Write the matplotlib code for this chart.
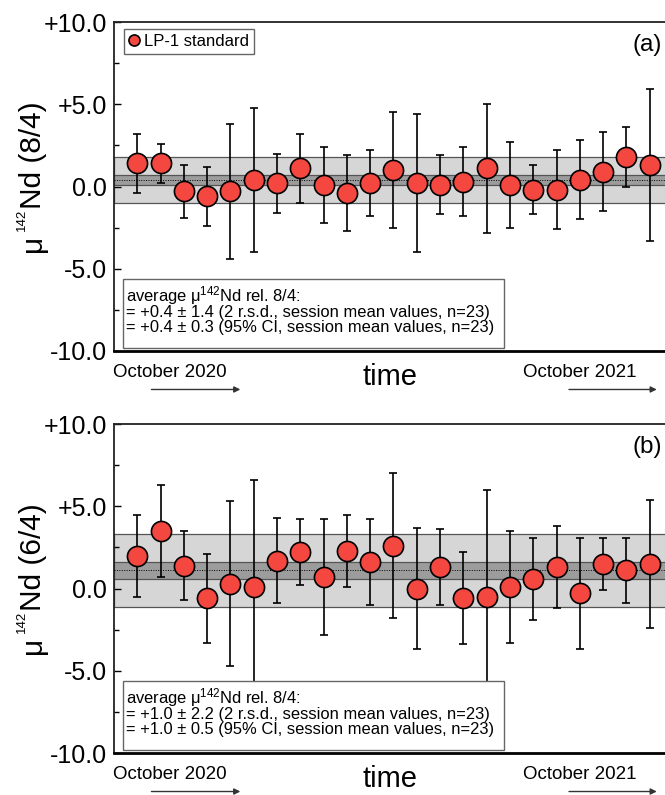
import numpy as np
import matplotlib
matplotlib.use("Agg")
import matplotlib.pyplot as plt
from matplotlib.patches import Rectangle
from matplotlib.ticker import FixedLocator

plt.rcParams["font.family"] = ["Liberation Sans", "DejaVu Sans"]
plt.rcParams["mathtext.fontset"] = "custom"
plt.rcParams["mathtext.rm"] = "Liberation Sans"
plt.rcParams["mathtext.default"] = "regular"

# session index (23 sessions, Oct 2020 - Oct 2021)
session = np.arange(1, 24)

# panel (a): mu142Nd rel. 8/4
mu_84 = [1.4, 1.4, -0.3, -0.6, -0.3, 0.4, 0.2, 1.1, 0.1, -0.4, 0.2, 1.0,
         0.2, 0.1, 0.3, 1.1, 0.1, -0.2, -0.2, 0.4, 0.9, 1.8, 1.3]
err_84 = [1.8, 1.2, 1.6, 1.8, 4.1, 4.4, 1.8, 2.1, 2.3, 2.3, 2.0, 3.5,
          4.2, 1.8, 2.1, 3.9, 2.6, 1.5, 2.4, 2.4, 2.4, 1.8, 4.6]
mean_84, rsd_84, ci_84 = 0.4, 1.4, 0.3

# panel (b): mu142Nd rel. 6/4
mu_64 = [2.0, 3.5, 1.4, -0.6, 0.3, 0.1, 1.7, 2.2, 0.7, 2.3, 1.6, 2.6,
         0.0, 1.3, -0.6, -0.5, 0.1, 0.6, 1.3, -0.3, 1.5, 1.1, 1.5]
err_64 = [2.5, 2.8, 2.1, 2.7, 5.0, 6.5, 2.6, 2.0, 3.5, 2.2, 2.6, 4.4,
          3.7, 2.3, 2.8, 6.5, 3.4, 2.5, 2.5, 3.4, 1.6, 2.0, 3.9]
mean_64, rsd_64, ci_64 = 1.1, 2.2, 0.5
# value quoted in the text box of (b)
quoted_64 = 1.0

yticks = [10, 5, 0, -5, -10]
ytick_labels = ["+10.0", "+5.0", "0.0", "-5.0", "-10.0"]
minor_ticks = [7.5, 2.5, -2.5, -7.5]

point_color = "#f3473f"

W, H = 665, 795
fig = plt.figure(figsize=(6.65, 7.95), dpi=100)
ax_a = fig.add_axes([0.1714, 0.5585, 0.8406, 0.4138])
ax_b = fig.add_axes([0.1714, 0.0528, 0.8406, 0.4138])


def ylabel_parts(y_start, ratio):
    """Rotated y label built from pieces so the superscript stays small.
    y_start is the pixel row (from top) where the label begins."""
    kw = dict(rotation=90, rotation_mode="anchor", ha="left", va="baseline")
    fig.text(41 / W, 1 - y_start / H, "μ", fontsize=21.5, **kw)
    fig.text(25 / W, 1 - (y_start - 21) / H, "142", fontsize=9.5, **kw)
    fig.text(41 / W, 1 - (y_start - 43) / H, "Nd (" + ratio + ")",
             fontsize=21.5, **kw)


def draw_panel(ax, vals, errs, mean, rsd, ci, quoted, tag, legend=False):
    ax.axhspan(mean - rsd, mean + rsd, facecolor="#d6d6d6", edgecolor="#555555",
               lw=0.9, zorder=1)
    ax.axhspan(mean - ci, mean + ci, facecolor="#9c9c9c", edgecolor="#555555",
               lw=0.9, zorder=2)
    ax.axhline(mean, color="black", lw=0.7, ls=(0, (1, 1.5)), zorder=3)

    ax.errorbar(session, vals, yerr=errs, fmt="none", ecolor="black",
                elinewidth=1.2, capsize=3, capthick=1.2, zorder=4)
    ax.plot(session, vals, "o", ms=14.5, mfc=point_color, mec="black",
            mew=1.2, zorder=5, label="LP-1 standard", ls="none")

    ax.set_xlim(0, 24)
    ax.set_ylim(-10, 10)
    ax.set_xticks([])
    ax.set_yticks(yticks)
    ax.set_yticklabels(ytick_labels)
    ax.yaxis.set_minor_locator(FixedLocator(minor_ticks))
    ax.tick_params(axis="y", which="major", direction="in", length=5, width=1,
                   labelsize=18, pad=5)
    ax.tick_params(axis="y", which="minor", direction="in", length=3.5, width=1)
    ax.spines["right"].set_visible(False)
    ax.spines["left"].set_linewidth(1.3)
    ax.spines["top"].set_linewidth(1.3)
    ax.spines["bottom"].set_linewidth(2.0)
    ax.spines["left"].set_color("#222222")
    ax.spines["top"].set_color("#222222")

    ax.text(0.981, 0.929, tag, transform=ax.transAxes, ha="right", va="center",
            fontsize=17.5)

    # statistics box
    box = Rectangle((0.0156, 0.009), 0.682, 0.209, transform=ax.transAxes,
                    facecolor="white", edgecolor="#666666", lw=1.0, zorder=6)
    ax.add_patch(box)
    ax.text(0.022, 0.170, "average μ$^{142}$Nd rel. 8/4:", transform=ax.transAxes,
            ha="left", va="center", fontsize=11.9, zorder=7)
    ax.text(0.022, 0.116,
            "= %+.1f ± %.1f (2 r.s.d., session mean values, n=23)" % (quoted, rsd),
            transform=ax.transAxes, ha="left", va="center", fontsize=11.9, zorder=7)
    ax.text(0.022, 0.070,
            "= %+.1f ± %.1f (95%% CI, session mean values, n=23)" % (quoted, ci),
            transform=ax.transAxes, ha="left", va="center", fontsize=11.9, zorder=7)

    # time axis annotation
    ax.text(-0.002, -0.064, "October 2020", transform=ax.transAxes, ha="left",
            va="center", fontsize=13.5)
    ax.text(0.731, -0.064, "October 2021", transform=ax.transAxes, ha="left",
            va="center", fontsize=13.5)
    ax.text(0.494, -0.079, "time", transform=ax.transAxes, ha="center",
            va="center", fontsize=21)
    for x0, x1 in [(0.067, 0.226), (0.814, 0.971)]:
        ax.annotate("", xy=(x1, -0.117), xytext=(x0, -0.117),
                    xycoords="axes fraction", textcoords="axes fraction",
                    arrowprops=dict(arrowstyle="-|>", color="#333333", lw=1.0,
                                    mutation_scale=9, shrinkA=0, shrinkB=0),
                    annotation_clip=False)

    if legend:
        leg = ax.legend(loc="upper left", bbox_to_anchor=(0.018, 0.979),
                        borderaxespad=0, fontsize=12, markerscale=0.55,
                        handlelength=0.6, handletextpad=0.3, borderpad=0.3,
                        fancybox=False, framealpha=1, edgecolor="#666666")
        leg.get_frame().set_linewidth(1.0)
        leg.set_zorder(8)


draw_panel(ax_a, mu_84, err_84, mean_84, rsd_84, ci_84, mean_84, "(a)",
           legend=True)
draw_panel(ax_b, mu_64, err_64, mean_64, rsd_64, ci_64, quoted_64, "(b)")

ylabel_parts(252, "8/4")
ylabel_parts(654, "6/4")

fig.savefig("out.png", dpi=100)
